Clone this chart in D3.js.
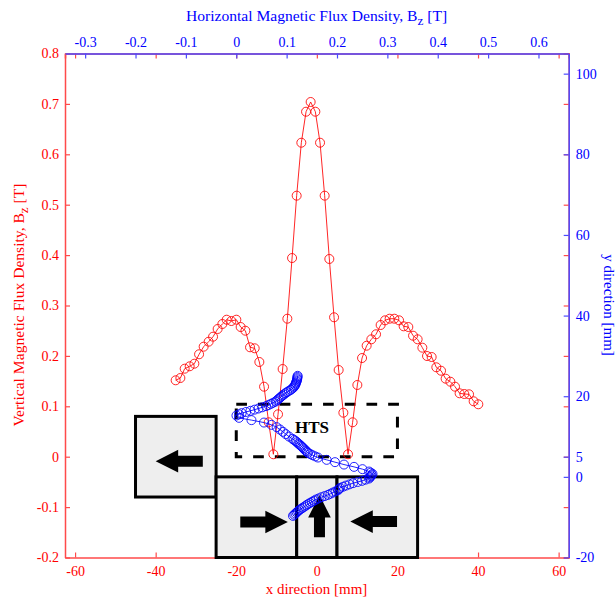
<!DOCTYPE html>
<html><head><meta charset="utf-8">
<script src="https://cdn.jsdelivr.net/npm/d3@7"></script>
<style>
html,body{margin:0;padding:0;background:#fff}
svg{display:block}
text{font-family:"Liberation Serif","Times New Roman",serif}
</style></head><body><div id="c"></div>
<script>
const redX=[-35.04,-33.87,-32.80,-31.56,-30.40,-29.23,-28.09,-26.85,-25.76,-24.62,-23.45,-22.38,-21.22,-19.98,-18.91,-17.74,-16.58,-15.43,-14.27,-13.10,-11.96,-10.79,-9.63,-8.49,-7.32,-6.15,-5.01,-3.85,-2.68,-1.54,-0.37,0.79,1.94,3.10,4.27,5.41,6.58,7.74,8.88,10.05,11.22,12.36,13.52,14.69,15.83,16.92,18.06,19.23,20.40,21.54,22.70,23.87,25.01,26.18,27.34,28.49,29.65,30.82,31.96,33.13,34.29,35.43,36.60,37.77,38.91,40.07];
const redBz=[.1516,.1561,.1746,.1794,.1845,.2032,.2183,.2282,.2381,.2534,.2633,.2718,.2692,.2718,.2573,.25,.2171,.2151,.1879,.1389,.0683,.0048,.0841,.174,.2738,.3942,.5179,.623,.6845,.7038,.6845,.623,.5179,.3923,.2766,.172,.0873,.0048,.0683,.1423,.1958,.2202,.2329,.2429,.2613,.2706,.2738,.2738,.2706,.2587,.2573,.2401,.2329,.2163,.1998,.1978,.1774,.1706,.1548,.1488,.1389,.1258,.1244,.1238,.1099,.104];
const blueBx=[.1219,.1215,.1212,.1208,.1204,.1195,.1186,.1178,.1170,.1153,.1136,.1109,.1082,.1045,.1007,.0975,.0943,.0915,.0888,.0862,.0836,.0810,.0783,.0736,.0689,.0640,.0590,.0515,.0441,.0362,.0282,.0195,.0107,.0055,.0004,.0054,.0302,.0550,.0699,.0802,.0868,.0928,.0983,.1047,.1116,.1148,.1180,.1207,.1233,.1259,.1285,.1308,.1331,.1355,.1378,.1401,.1424,.1468,.1513,.1568,.1623,.1795,.1960,.2139,.2338,.2506,.2636,.2670,.2705,.2690,.2675,.2655,.2636,.2566,.2497,.2408,.2318,.2248,.2179,.2120,.2060,.2040,.2020,.1970,.1921,.1871,.1821,.1756,.1692,.1637,.1583,.1543,.1503,.1463,.1424,.1390,.1355,.1320,.1285,.1255,.1225,.1200,.1176,.1151,.1126];
const blueY=[25.06,24.78,24.49,24.2,23.9,23.62,23.33,23.05,22.76,22.46,22.16,21.88,21.59,21.3,21.02,20.72,20.42,20.14,19.85,19.56,19.28,18.98,18.68,18.4,18.11,17.82,17.54,17.25,16.95,16.66,16.38,16.1,15.81,15.51,15.21,14.64,14.07,13.47,12.90,12.33,11.74,11.17,10.6,10.0,9.43,9.15,8.86,8.56,8.26,7.98,7.69,7.4,7.12,6.82,6.53,6.25,5.96,5.67,5.38,5.08,4.79,4.22,3.65,3.05,2.48,1.91,1.32,1.03,.74,.45,.17,-.12,-.42,-.7,-.99,-1.28,-1.56,-1.86,-2.16,-2.45,-2.73,-3.02,-3.3,-3.6,-3.89,-4.18,-4.47,-4.76,-5.04,-5.34,-5.63,-5.92,-6.2,-6.48,-6.77,-7.07,-7.37,-7.66,-7.94,-8.22,-8.51,-8.8,-9.1,-9.39,-9.68];
const xTicks=[-60,-40,-20,0,20,40,60];
const topTicks=[-0.3,-0.2,-0.1,0,0.1,0.2,0.3,0.4,0.5,0.6];
const leftTicks=[-0.2,-0.1,0,0.1,0.2,0.3,0.4,0.5,0.6,0.7,0.8];
const rightTicks=[-20,0,5,20,40,60,80,100];
// magnet cross-sections [x0,x1,y0,y1] in mm
const magnets=[[-45,-25,-5,15],[-25,-5,-20,0],[-5,5,-20,0],[5,25,-20,0]];
const htsBox=[-20,20,5,18];
// arrows: tail [x,y], tip [x,y] in mm
const arrows=[[[-28.3,3.9],[-40,3.9]],[[-19,-11.2],[-7.2,-11.2]],[[0.65,-15],[0.65,-4.5]],[[19.9,-11.1],[8.3,-11.1]]];

const W=616,H=599,L=65,R=568.7,T=53.5,B=557.5;
const x=d3.scaleLinear().domain([-62.5,62.5]).range([L,R]);
const xt=d3.scaleLinear().domain([-0.34,0.66]).range([L,R]);
const yl=d3.scaleLinear().domain([-0.2,0.8]).range([B,T]);
const yr=d3.scaleLinear().domain([-20,105]).range([B,T]);
const RED="#ff0000",BLUE="#0000ff",AX_R="#ff4a4a",AX_B="#4a4aff";
const svg=d3.select("#c").append("svg").attr("width",W).attr("height",H);

function style(g,c,tc,fs){g.select(".domain").attr("stroke",c).attr("stroke-width",1.5);
 g.selectAll(".tick line").attr("stroke",c).attr("stroke-width",1.2);
 g.selectAll("text").attr("fill",tc).attr("font-size",fs).attr("font-family",'"Liberation Serif",serif');}
const fmt=v=>String(v);
const fs=14;
// red ticks mirrored on the top and right sides
const mt=svg.append("g").attr("transform",`translate(0,${T})`).call(d3.axisTop(x).tickValues(xTicks).tickSize(-5).tickFormat(""));style(mt,AX_R,RED,fs);
const mr=svg.append("g").attr("transform",`translate(${R},0)`).call(d3.axisRight(yl).tickValues(leftTicks).tickSize(-5).tickFormat(""));style(mr,AX_R,RED,fs);
const gb=svg.append("g").attr("transform",`translate(0,${B})`).call(d3.axisBottom(x).tickValues(xTicks).tickSizeInner(-5).tickSizeOuter(0).tickPadding(9).tickFormat(fmt));style(gb,AX_R,RED,fs);
const gl=svg.append("g").attr("transform",`translate(${L},0)`).call(d3.axisLeft(yl).tickValues(leftTicks).tickSizeInner(-5).tickSizeOuter(0).tickPadding(6).tickFormat(fmt));style(gl,AX_R,RED,fs);
const gt=svg.append("g").attr("transform",`translate(0,${T})`).call(d3.axisTop(xt).tickValues(topTicks).tickSizeInner(-5).tickSizeOuter(0).tickPadding(7).tickFormat(fmt));style(gt,AX_B,BLUE,fs);
const gr=svg.append("g").attr("transform",`translate(${R},0)`).call(d3.axisRight(yr).tickValues(rightTicks).tickSizeInner(-5).tickSizeOuter(0).tickPadding(7).tickFormat(fmt));style(gr,AX_B,BLUE,fs);

// magnets
svg.append("g").selectAll("rect").data(magnets).join("rect")
 .attr("x",d=>x(d[0])).attr("width",d=>x(d[1])-x(d[0]))
 .attr("y",d=>yr(d[3])).attr("height",d=>yr(d[2])-yr(d[3]))
 .attr("fill","#eeeeee").attr("stroke","#000").attr("stroke-width",3);
// HTS box
svg.append("rect").attr("x",x(htsBox[0])).attr("width",x(htsBox[1])-x(htsBox[0]))
 .attr("y",yr(htsBox[3])).attr("height",yr(htsBox[2])-yr(htsBox[3]))
 .attr("fill","none").attr("stroke","#000").attr("stroke-width",3).attr("stroke-dasharray","10.7 11");
svg.append("text").attr("x",x(-1.2)).attr("y",433).attr("text-anchor","middle")
 .attr("font-size",17).attr("font-weight","bold").attr("fill","#000").text("HTS");
// arrows
svg.append("g").selectAll("path").data(arrows).join("path").attr("fill","#000").attr("d",d=>{
 const [a,b]=[[x(d[0][0]),yr(d[0][1])],[x(d[1][0]),yr(d[1][1])]];
 const len=Math.hypot(b[0]-a[0],b[1]-a[1]),ux=(b[0]-a[0])/len,uy=(b[1]-a[1])/len,px=-uy,py=ux;
 const hl=22.5,sw=5.5,hw=11.3,bx=b[0]-ux*hl,by=b[1]-uy*hl;
 const p=[[a[0]+px*sw,a[1]+py*sw],[bx+px*sw,by+py*sw],[bx+px*hw,by+py*hw],b,[bx-px*hw,by-py*hw],[bx-px*sw,by-py*sw],[a[0]-px*sw,a[1]-py*sw]];
 return "M"+p.map(q=>q.join(",")).join("L")+"Z";});

// red series
const red=redX.map((v,i)=>[v,redBz[i]]);
svg.append("path").datum(red).attr("fill","none").attr("stroke",RED).attr("stroke-width",1).attr("opacity",.85)
 .attr("d",d3.line().x(d=>x(d[0])).y(d=>yl(d[1])));
svg.append("g").selectAll("circle").data(red).join("circle").attr("cx",d=>x(d[0])).attr("cy",d=>yl(d[1])).attr("r",4.5)
 .attr("fill","none").attr("stroke",RED).attr("stroke-width",1).attr("opacity",.85);
// blue series
const blue=blueBx.map((v,i)=>[v,blueY[i]]);
svg.append("path").datum(blue).attr("fill","none").attr("stroke",BLUE).attr("stroke-width",1).attr("opacity",.85)
 .attr("d",d3.line().x(d=>xt(d[0])).y(d=>yr(d[1])));
svg.append("g").selectAll("circle").data(blue).join("circle").attr("cx",d=>xt(d[0])).attr("cy",d=>yr(d[1])).attr("r",4.5)
 .attr("fill","none").attr("stroke",BLUE).attr("stroke-width",1).attr("opacity",.85);

// titles
function title(c,xx,yy,rot,tfs,parts){
 const t=svg.append("text").attr("text-anchor","middle").attr("fill",c).attr("font-size",tfs)
  .attr("transform",`translate(${xx},${yy}) rotate(${rot})`);
 parts.forEach(p=>{const s=t.append("tspan").text(p.t);
  if(p.sub){s.attr("dy",4).attr("font-size",tfs*0.85);} else if(p.back){s.attr("dy",-4);}});
}
title(BLUE,316.5,21,0,15.6,[{t:"Horizontal Magnetic Flux Density, B"},{t:"z",sub:1},{t:" [T]",back:1}]);
title(RED,316.5,594,0,15,[{t:"x direction [mm]"}]);
title(RED,23.5,305,-90,15.6,[{t:"Vertical Magnetic Flux Density, B"},{t:"z",sub:1},{t:" [T]",back:1}]);
title(BLUE,604,305,90,15,[{t:"y direction [mm]"}]);
</script></body></html>
